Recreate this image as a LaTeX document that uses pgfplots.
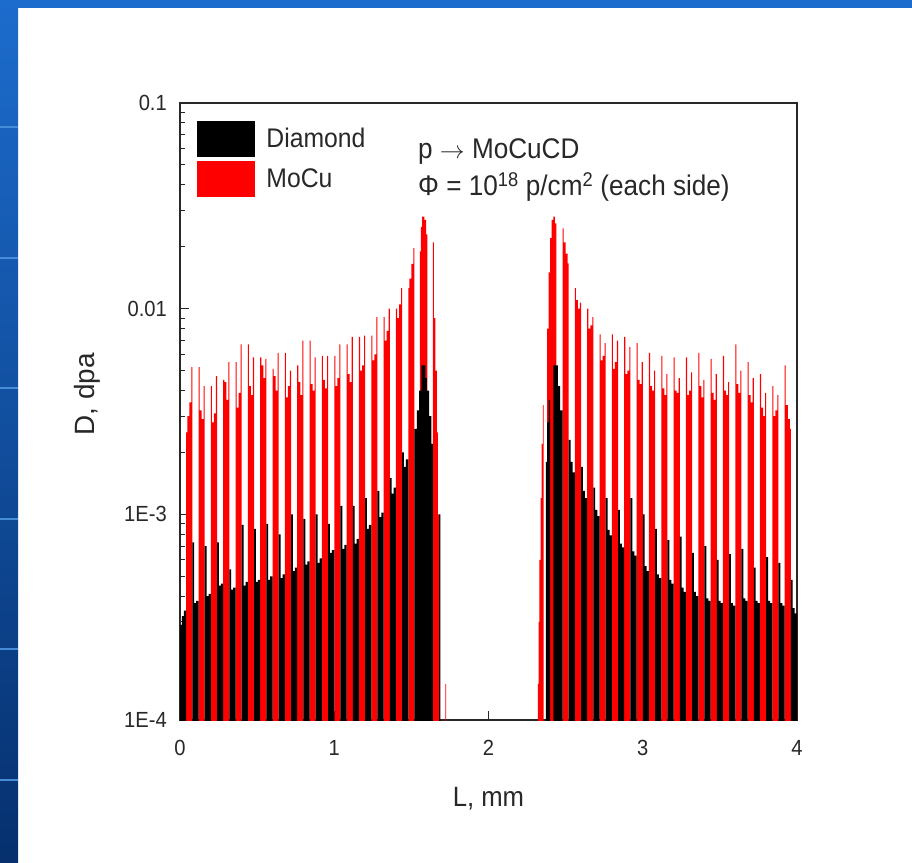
\documentclass[border=0pt]{standalone}
\usepackage{pgfplots}
\pgfplotsset{compat=1.18}
\usepackage{fontspec}
\setmainfont{Liberation Sans}[FakeStretch=0.92]
\newfontfamily\ylabfont{Liberation Sans}
\definecolor{slideblueA}{RGB}{28,108,205}
\definecolor{slideblueB}{RGB}{6,48,110}
\definecolor{slideline}{RGB}{70,140,215}
\definecolor{axgray}{RGB}{40,40,40}
\begin{document}
\begin{tikzpicture}
\useasboundingbox (0,0) rectangle (912bp,863bp);
\fill[white] (0,0) rectangle (912bp,863bp);
\shade[top color=slideblueA, bottom color=slideblueB] (0,0) rectangle (18bp,863bp);
\fill[slideblueA] (0,855bp) rectangle (912bp,863bp);
\foreach \yy in {127,258,388,519,649,780} {
  \fill[slideline] (0,863bp-\yy bp-1bp) rectangle (18bp,863bp-\yy bp+1bp);
}
\begin{axis}[
  at={(180bp,143bp)}, anchor=south west,
  scale only axis, width=617bp, height=617bp,
  xmin=0, xmax=4, ymin=1e-4, ymax=0.1,
  ymode=log, log basis y=10,
  axis line style={line width=1.4bp, axgray},
  tick style={line width=1bp, axgray},
  tick align=inside, xtick pos=bottom, ytick pos=left,
  major tick length=9bp, minor tick length=5bp,
  xtick={0,1,2,3,4}, xticklabels={0,1,2,3,4},
  ytick={1e-4,1e-3,1e-2,1e-1}, yticklabels={1E-4,1E-3,0.01,0.1},
  minor ytick={2e-4,3e-4,4e-4,5e-4,6e-4,7e-4,8e-4,9e-4,2e-3,3e-3,4e-3,5e-3,6e-3,7e-3,8e-3,9e-3,2e-2,3e-2,4e-2,5e-2,6e-2,7e-2,8e-2,9e-2},
  minor xtick={},
  /pgf/number format/assume math mode=true,
  ticklabel style={font=\fontsize{22}{24}\selectfont, text=axgray},
  yticklabel style={inner sep=0pt, xshift=-13bp},
  xticklabel style={inner sep=0pt, yshift=-20bp},
  xlabel={L, mm}, ylabel={D, dpa},
  every axis x label/.style={at={(axis description cs:0.5,-0.1394)}, anchor=base, font=\fontsize{28}{30}\selectfont, text=axgray},
  every axis y label/.style={at={(axis description cs:-0.1507,0.528)}, anchor=center, rotate=90, font=\ylabfont\fontsize{28}{30}\selectfont, text=axgray},
  legend style={at={(0.02755,0.9708)}, anchor=north west, draw=none, fill=none,
    inner sep=0pt, outer sep=0pt, row sep=5bp, column sep=10bp,
    font=\fontsize{27}{30}\selectfont, text=axgray},
  legend cell align=left,
  clip=true,
]
\addlegendimage{legend image code/.code={\fill[black] (0bp,-17.5bp) rectangle (57bp,17.5bp);}}
\addlegendentry{Diamond}
\addlegendimage{legend image code/.code={\fill[red] (0bp,-17.5bp) rectangle (57bp,17.5bp);}}
\addlegendentry{MoCu}

% MoCu layers
\addplot[const plot mark left, fill=red, draw=none, forget plot] coordinates {
(0,1e-5)
(0.04,2.5e-3) (0.047,3.0e-3) (0.06,3.5e-3) (0.073,5.2e-3) (0.08,1e-5)
(0.12,5.2e-3) (0.127,3.2e-3) (0.14,2.9e-3) (0.153,4.2e-3) (0.16,1e-5)
(0.20,4.2e-3) (0.207,2.8e-3) (0.22,3.1e-3) (0.233,4.7e-3) (0.24,1e-5)
(0.28,4.5e-3) (0.287,4.4e-3) (0.30,3.6e-3) (0.313,5.5e-3) (0.32,1e-5)
(0.36,5.5e-3) (0.367,3.3e-3) (0.38,3.9e-3) (0.393,6.7e-3) (0.40,1e-5)
(0.44,6.7e-3) (0.447,4.2e-3) (0.46,3.8e-3) (0.473,5.8e-3) (0.48,1e-5)
(0.52,5.8e-3) (0.527,5.3e-3) (0.54,4.6e-3) (0.553,5.7e-3) (0.56,1e-5)
(0.60,5.1e-3) (0.607,4.7e-3) (0.62,4.0e-3) (0.633,6.1e-3) (0.64,1e-5)
(0.68,6.1e-3) (0.687,3.7e-3) (0.70,4.2e-3) (0.713,5.0e-3) (0.72,1e-5)
(0.76,5.3e-3) (0.767,4.4e-3) (0.78,3.8e-3) (0.793,7.0e-3) (0.80,1e-5)
(0.84,7.0e-3) (0.847,4.3e-3) (0.86,4.0e-3) (0.873,5.8e-3) (0.88,1e-5)
(0.92,5.9e-3) (0.927,4.5e-3) (0.94,4.1e-3) (0.953,5.9e-3) (0.96,1e-5)
(1.00,5.9e-3) (1.007,4.2e-3) (1.02,4.6e-3) (1.033,6.7e-3) (1.04,1e-5)
(1.08,6.7e-3) (1.087,4.8e-3) (1.10,4.4e-3) (1.113,7.3e-3) (1.12,1e-5)
(1.16,7.3e-3) (1.167,5.0e-3) (1.18,5.3e-3) (1.193,7.4e-3) (1.20,1e-5)
(1.24,7.4e-3) (1.247,5.6e-3) (1.26,6.0e-3) (1.273,9.1e-3) (1.28,1e-5)
(1.32,9.1e-3) (1.327,7.0e-3) (1.34,7.8e-3) (1.353,1.0e-2) (1.36,1e-5)
(1.40,1.0e-2) (1.407,9.0e-3) (1.42,1.05e-2) (1.433,1.26e-2) (1.44,1e-5)
(1.48,1.26e-2) (1.487,1.4e-2) (1.50,1.65e-2) (1.513,1.97e-2) (1.52,1e-5)
(1.555,1.9e-2) (1.562,2.5e-2) (1.57,2.8e-2) (1.585,2.7e-2) (1.595,2.3e-2) (1.603,1e-5)
(1.64,2.1e-2) (1.646,9e-3) (1.655,5e-3) (1.665,2.5e-3) (1.672,1.0e-3) (1.68,4e-4) (1.685,1e-5)
(1.72,1.5e-4) (1.726,1e-5)
(2.32,1.5e-4) (2.325,3e-4) (2.33,6e-4) (2.338,1.2e-3) (2.345,2.2e-3) (2.352,3.4e-3) (2.358,1e-5)
(2.38,8e-3) (2.39,1.5e-2) (2.40,2.2e-2) (2.41,2.7e-2) (2.42,2.8e-2) (2.43,2.6e-2) (2.44,1e-5)
(2.48,2.46e-2) (2.487,2.1e-2) (2.50,1.85e-2) (2.513,1.66e-2) (2.52,1e-5)
(2.56,1.26e-2) (2.567,1.1e-2) (2.58,1.0e-2) (2.593,1.07e-2) (2.60,1e-5)
(2.64,1.0e-2) (2.647,8.0e-3) (2.66,8.3e-3) (2.673,9.1e-3) (2.68,1e-5)
(2.72,7.5e-3) (2.727,5.6e-3) (2.74,5.9e-3) (2.753,6.8e-3) (2.76,1e-5)
(2.80,7.5e-3) (2.807,5.1e-3) (2.82,5.5e-3) (2.833,7.0e-3) (2.84,1e-5)
(2.88,7.3e-3) (2.887,4.8e-3) (2.90,5.0e-3) (2.913,6.5e-3) (2.92,1e-5)
(2.96,6.8e-3) (2.967,4.5e-3) (2.98,4.3e-3) (2.993,5.5e-3) (3.00,1e-5)
(3.04,6.1e-3) (3.047,4.2e-3) (3.06,4.0e-3) (3.073,5.0e-3) (3.08,1e-5)
(3.12,5.9e-3) (3.127,4.1e-3) (3.14,3.8e-3) (3.153,4.8e-3) (3.16,1e-5)
(3.20,5.8e-3) (3.207,4.0e-3) (3.22,3.9e-3) (3.233,4.6e-3) (3.24,1e-5)
(3.28,5.8e-3) (3.287,3.8e-3) (3.30,4.0e-3) (3.313,4.9e-3) (3.32,1e-5)
(3.36,6.1e-3) (3.367,4.2e-3) (3.38,3.7e-3) (3.393,4.5e-3) (3.40,1e-5)
(3.44,5.7e-3) (3.447,3.9e-3) (3.46,3.6e-3) (3.473,4.8e-3) (3.48,1e-5)
(3.52,5.9e-3) (3.527,4.0e-3) (3.54,3.8e-3) (3.553,4.4e-3) (3.56,1e-5)
(3.60,6.7e-3) (3.607,4.3e-3) (3.62,3.9e-3) (3.633,5.0e-3) (3.64,1e-5)
(3.68,5.5e-3) (3.687,3.8e-3) (3.70,3.5e-3) (3.713,4.6e-3) (3.72,1e-5)
(3.76,4.8e-3) (3.767,3.3e-3) (3.78,3.0e-3) (3.793,3.9e-3) (3.80,1e-5)
(3.84,4.2e-3) (3.847,3.0e-3) (3.86,3.2e-3) (3.873,3.8e-3) (3.88,1e-5)
(3.92,5.3e-3) (3.927,3.4e-3) (3.94,2.9e-3) (3.953,2.6e-3) (3.96,1e-5)
(4.0,1e-5)
};

% Diamond layers
\addplot[const plot mark left, fill=black, draw=none, forget plot] coordinates {
(0,1e-5)
(0,2.9e-4) (0.012,3.2e-4) (0.025,3.4e-4) (0.04,1e-5)
(0.08,7.3e-4) (0.092,3.7e-4) (0.105,3.8e-4) (0.12,1e-5)
(0.16,7.0e-4) (0.172,4.0e-4) (0.185,4.1e-4) (0.20,1e-5)
(0.24,7.3e-4) (0.252,4.5e-4) (0.265,4.6e-4) (0.28,1e-5)
(0.32,5.4e-4) (0.332,4.3e-4) (0.345,4.4e-4) (0.36,1e-5)
(0.40,8.9e-4) (0.412,4.5e-4) (0.425,4.7e-4) (0.44,1e-5)
(0.48,8.5e-4) (0.492,4.7e-4) (0.505,4.8e-4) (0.52,1e-5)
(0.56,9.0e-4) (0.572,4.8e-4) (0.585,5.0e-4) (0.60,1e-5)
(0.64,8.0e-4) (0.652,4.9e-4) (0.665,5.1e-4) (0.68,1e-5)
(0.72,1.0e-3) (0.732,5.3e-4) (0.745,5.5e-4) (0.76,1e-5)
(0.80,9.5e-4) (0.812,5.7e-4) (0.825,5.9e-4) (0.84,1e-5)
(0.88,1.0e-3) (0.892,5.8e-4) (0.905,6.1e-4) (0.92,1e-5)
(0.96,9.0e-4) (0.972,6.5e-4) (0.985,6.7e-4) (1.00,1e-5)
(1.04,1.1e-3) (1.052,6.8e-4) (1.065,7.1e-4) (1.08,1e-5)
(1.12,1.1e-3) (1.132,7.2e-4) (1.145,7.6e-4) (1.16,1e-5)
(1.20,1.2e-3) (1.212,8.5e-4) (1.225,8.9e-4) (1.24,1e-5)
(1.28,1.3e-3) (1.292,9.7e-4) (1.305,1.02e-3) (1.32,1e-5)
(1.36,1.5e-3) (1.372,1.26e-3) (1.385,1.35e-3) (1.40,1e-5)
(1.44,2.0e-3) (1.452,1.7e-3) (1.465,1.85e-3) (1.48,1e-5)
(1.52,2.6e-3) (1.535,3.2e-3) (1.55,4.0e-3) (1.565,5.3e-3) (1.59,4.6e-3) (1.60,4.0e-3) (1.615,3.0e-3) (1.63,2.2e-3) (1.64,1e-5)
(1.68,1.0e-3) (1.688,1e-5)
(2.372,1.8e-3) (2.38,2.8e-3) (2.39,3.6e-3) (2.40,1e-5)
(2.42,5.3e-3) (2.45,4.2e-3) (2.465,3.2e-3) (2.48,1e-5)
(2.52,2.3e-3) (2.532,1.8e-3) (2.545,1.6e-3) (2.56,1e-5)
(2.60,1.7e-3) (2.612,1.3e-3) (2.625,1.2e-3) (2.64,1e-5)
(2.68,1.35e-3) (2.692,1.05e-3) (2.705,9.8e-4) (2.72,1e-5)
(2.76,1.2e-3) (2.772,8.4e-4) (2.785,7.9e-4) (2.80,1e-5)
(2.84,1.05e-3) (2.852,7.2e-4) (2.865,6.9e-4) (2.88,1e-5)
(2.92,1.2e-3) (2.932,6.6e-4) (2.945,6.3e-4) (2.96,1e-5)
(3.00,1.0e-3) (3.012,5.6e-4) (3.025,5.3e-4) (3.04,1e-5)
(3.08,8.5e-4) (3.092,5.1e-4) (3.105,4.9e-4) (3.12,1e-5)
(3.16,7.5e-4) (3.172,4.8e-4) (3.185,4.6e-4) (3.20,1e-5)
(3.24,7.8e-4) (3.252,4.4e-4) (3.265,4.2e-4) (3.28,1e-5)
(3.32,6.5e-4) (3.332,4.2e-4) (3.345,4.0e-4) (3.36,1e-5)
(3.40,7.0e-4) (3.412,3.9e-4) (3.425,3.8e-4) (3.44,1e-5)
(3.48,6.0e-4) (3.492,3.8e-4) (3.505,3.7e-4) (3.52,1e-5)
(3.56,6.4e-4) (3.572,3.7e-4) (3.585,3.6e-4) (3.60,1e-5)
(3.64,6.8e-4) (3.652,3.9e-4) (3.665,3.8e-4) (3.68,1e-5)
(3.72,5.5e-4) (3.732,3.8e-4) (3.745,3.7e-4) (3.76,1e-5)
(3.80,6.2e-4) (3.812,3.8e-4) (3.825,3.7e-4) (3.84,1e-5)
(3.88,5.8e-4) (3.892,3.7e-4) (3.905,3.6e-4) (3.92,1e-5)
(3.96,4.8e-4) (3.972,3.5e-4) (3.985,3.3e-4) (4.0,1e-5)
};

\node[anchor=base west, font=\fontsize{28.5}{31}\selectfont, text=axgray, inner sep=0pt]
  at (rel axis cs:0.3857,0.9104) {p \ensuremath{\rightarrow} MoCuCD};
\node[anchor=base west, font=\fontsize{28.5}{31}\selectfont, text=axgray, inner sep=0pt]
  at (rel axis cs:0.3857,0.8493) {Φ = 10\textsuperscript{18} p/cm\textsuperscript{2} (each side)};
\end{axis}
\end{tikzpicture}
\end{document}
